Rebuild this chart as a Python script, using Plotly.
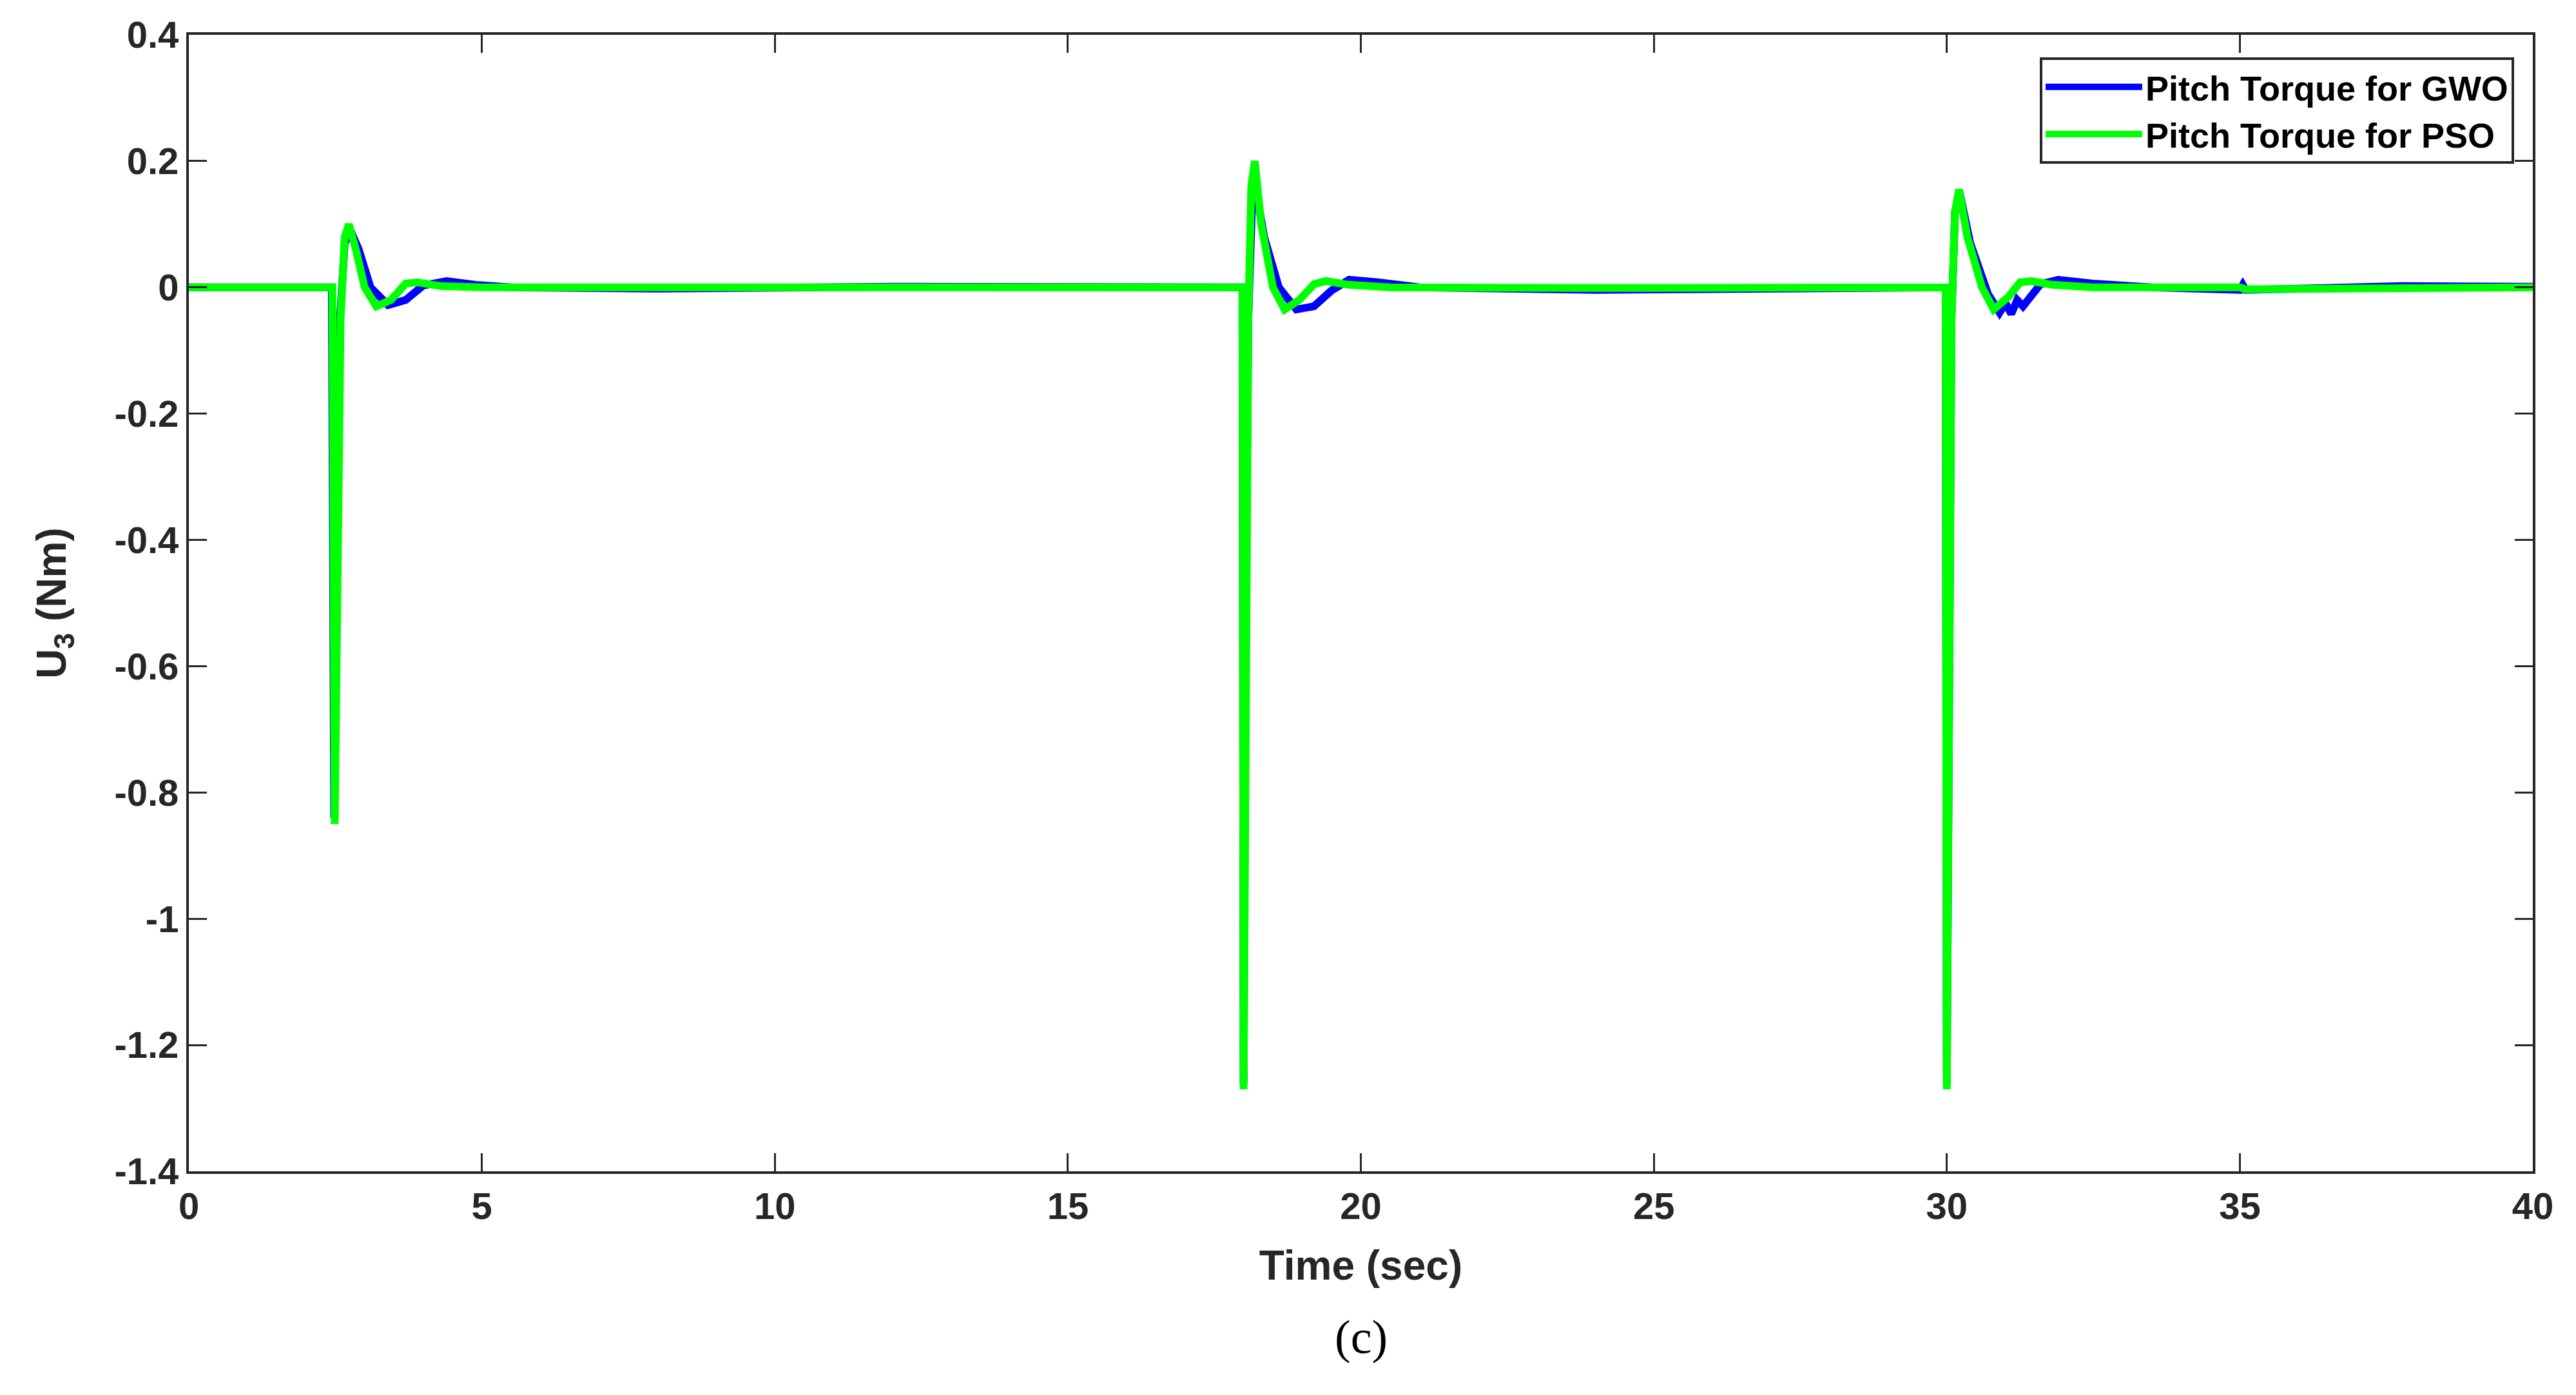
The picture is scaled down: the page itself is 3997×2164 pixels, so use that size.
import plotly.graph_objects as go

# GWO (blue) series
t_gwo = [0, 2.44, 2.48, 2.52, 2.58, 2.66, 2.76, 2.9, 3.1, 3.4, 3.7, 4.0, 4.4, 4.9, 5.5, 8, 12, 17.98,
         18.0, 18.03, 18.08, 18.14, 18.22, 18.35, 18.6, 18.9, 19.2, 19.5, 19.8, 20.3, 21, 24, 29.98,
         30.0, 30.03, 30.08, 30.14, 30.22, 30.4, 30.7, 30.9, 31.0, 31.1, 31.2, 31.3, 31.6, 31.9, 32.5, 33.5, 35.0, 35.05, 35.1, 37.8, 40]
u_gwo = [0, 0, -0.84, -0.5, -0.05, 0.07, 0.09, 0.06, 0.0, -0.028, -0.02, 0.003, 0.01, 0.004, 0.0, -0.002, 0.001, 0,
         -1.26, -0.6, -0.05, 0.12, 0.15, 0.08, 0.0, -0.035, -0.03, -0.005, 0.012, 0.008, 0.0, -0.004, 0,
         -1.26, -0.6, -0.05, 0.12, 0.15, 0.07, -0.01, -0.04, -0.025, -0.042, -0.02, -0.03, 0.005, 0.012, 0.006, 0.0, -0.004, 0.004, -0.004, 0.002, 0.001]

# PSO (green) series
t_pso = [0, 2.45, 2.49, 2.53, 2.59, 2.66, 2.73, 2.85, 3.0, 3.2, 3.45, 3.7, 3.9, 4.3, 5, 8, 12, 17.98,
         18.0, 18.03, 18.08, 18.13, 18.19, 18.3, 18.5, 18.7, 18.95, 19.2, 19.4, 19.8, 20.5, 24, 29.98,
         30.0, 30.03, 30.08, 30.14, 30.21, 30.35, 30.6, 30.8, 31.05, 31.25, 31.45, 31.8, 32.5, 35.0, 35.1, 40]
u_pso = [0, 0, -0.85, -0.5, -0.05, 0.08, 0.10, 0.06, 0.0, -0.03, -0.02, 0.006, 0.008, 0.002, 0.0, 0.0, 0.001, 0,
         -1.27, -0.6, -0.05, 0.16, 0.20, 0.10, 0.0, -0.035, -0.02, 0.005, 0.01, 0.004, 0.0, -0.001, 0,
         -1.27, -0.6, -0.05, 0.12, 0.155, 0.08, 0.0, -0.035, -0.015, 0.008, 0.01, 0.004, 0.0, 0.0, -0.003, 0.0]

x_ticks = [0, 5, 10, 15, 20, 25, 30, 35, 40]
y_ticks = [0.4, 0.2, 0, -0.2, -0.4, -0.6, -0.8, -1, -1.2, -1.4]

fig = go.Figure()
fig.add_trace(go.Scatter(x=t_gwo, y=u_gwo, mode="lines", name="Pitch Torque for GWO",
                         line=dict(color="#0000ff", width=12)))
fig.add_trace(go.Scatter(x=t_pso, y=u_pso, mode="lines", name="Pitch Torque for PSO",
                         line=dict(color="#00ff00", width=12)))

axfont = dict(family="Liberation Sans", size=58, color="#262626", weight="bold")
common = dict(showline=True, linecolor="#262626", linewidth=4, mirror="ticks", ticks="inside",
              ticklen=28, tickwidth=3, tickcolor="#262626", showgrid=False, zeroline=False,
              tickfont=axfont)
fig.update_xaxes(range=[0, 40], tickvals=x_ticks, ticktext=[str(v) for v in x_ticks],
                 title=dict(text="Time (sec)", font=dict(family="Liberation Sans", size=64, color="#262626", weight="bold"), standoff=40),
                 **common)
fig.update_yaxes(range=[-1.4, 0.4], tickvals=y_ticks, ticktext=[f"{v:g}" for v in y_ticks],
                 title=dict(text="U<sub>3</sub> (Nm)", font=dict(family="Liberation Sans", size=64, color="#262626", weight="bold"), standoff=55),
                 **common)

fig.update_layout(
    width=3997, height=2164, paper_bgcolor="white", plot_bgcolor="white",
    margin=dict(l=285, r=75, t=46, b=355),
    legend=dict(x=0.992, y=0.98, xanchor="right", yanchor="top", bgcolor="white",
                bordercolor="#262626", borderwidth=4, itemwidth=150, tracegroupgap=0,
                font=dict(family="Liberation Sans", size=54, color="black", weight="bold")),
    annotations=[dict(text="(c)", x=0.5, y=-0.17, xref="paper", yref="paper", showarrow=False,
                      font=dict(family="Liberation Serif", size=74, color="black"))],
)
fig.write_html("out.html")
